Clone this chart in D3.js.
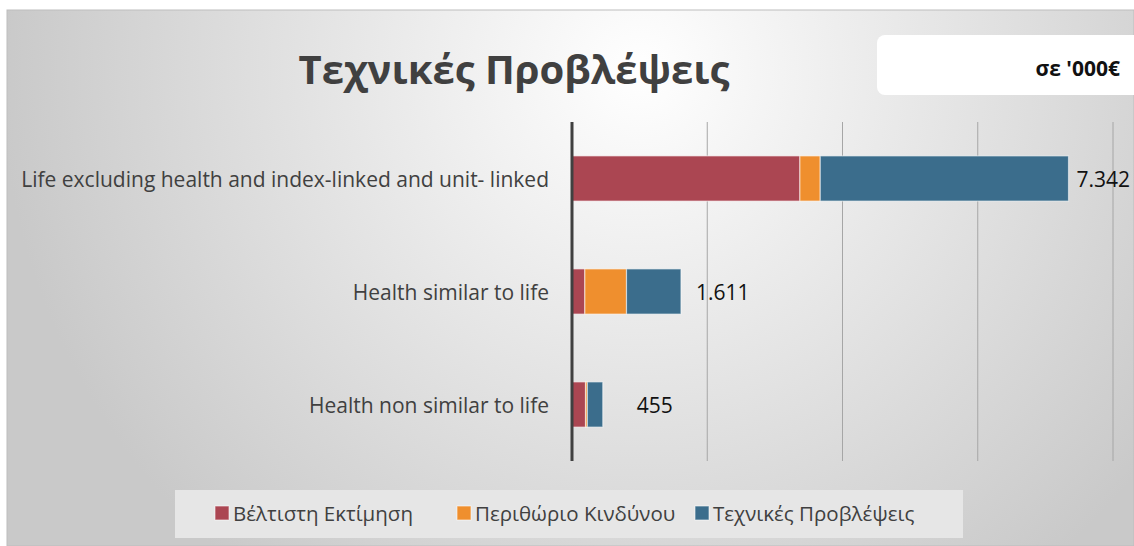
<!DOCTYPE html>
<html>
<head>
<meta charset="utf-8">
<script src="https://cdn.jsdelivr.net/npm/d3@7"></script>
<style>
  html, body { margin: 0; padding: 0; background: #fff; }
  svg { display: block; }
</style>
</head>
<body>
<svg id="chart" width="1134" height="546"></svg>
<script>
// Data (values in '000€)
const categories = [
    'Life excluding health and index-linked and unit- linked',
    'Health similar to life',
    'Health non similar to life'
];
const seriesNames = ['Βέλτιστη Εκτίμηση', 'Περιθώριο Κινδύνου', 'Τεχνικές Προβλέψεις'];
const bestEstimate = [3370, 190, 200];
const riskMargin = [301, 616, 27];
const technicalProvisions = [3671, 805, 228];
const xTicks = [0, 2000, 4000, 6000, 8000];

const colors = ['#ab4652', '#ef8f2e', '#3b6d8c'];
const labelNudge = [8, 15, 34];

const svg = d3.select('#chart');
const W = 1134, H = 546;

// background
const defs = svg.append('defs');
const grad = defs.append('radialGradient')
    .attr('id', 'bg')
    .attr('gradientUnits', 'userSpaceOnUse')
    .attr('cx', 640).attr('cy', 70).attr('r', 640);
grad.append('stop').attr('offset', '0%').attr('stop-color', '#ffffff');
grad.append('stop').attr('offset', '100%').attr('stop-color', '#c9c9c9');

svg.append('rect')
    .attr('x', 7).attr('y', 10)
    .attr('width', W - 7).attr('height', H - 10)
    .attr('fill', 'url(#bg)')
    .attr('stroke', '#bdbdbd').attr('stroke-width', 1);

// title
svg.append('text')
    .attr('x', 514).attr('y', 84)
    .attr('text-anchor', 'middle')
    .style('font-family', '"Open Sans", sans-serif')
    .style('font-weight', 'bold')
    .style('font-size', '40px')
    .attr('fill', '#404040')
    .text('Τεχνικές Προβλέψεις');

// units box
svg.append('rect')
    .attr('x', 877).attr('y', 35)
    .attr('width', 280).attr('height', 60)
    .attr('rx', 8)
    .attr('fill', '#ffffff');
svg.append('text')
    .attr('x', 1120).attr('y', 76)
    .attr('text-anchor', 'end')
    .style('font-family', '"Open Sans", sans-serif')
    .style('font-weight', 'bold')
    .style('font-size', '21px')
    .attr('fill', '#111')
    .text("σε '000€");

// scales
const margin = {left: 572, right: 21, top: 122, bottom: 85};
const x = d3.scaleLinear()
    .domain([0, 8000])
    .range([margin.left, W - margin.right]);
const y = d3.scaleBand()
    .domain(categories)
    .range([margin.top, H - margin.bottom])
    .paddingInner(0.6)
    .paddingOuter(0.3);

// gridlines
svg.append('g')
    .selectAll('line')
    .data(xTicks.slice(1))
    .enter().append('line')
    .attr('x1', d => x(d)).attr('x2', d => x(d))
    .attr('y1', margin.top).attr('y2', H - margin.bottom)
    .attr('stroke', '#a6a6a6')
    .attr('stroke-width', 1);

// stacked bars
const rows = categories.map((c, i) => ({
    category: c,
    be: bestEstimate[i],
    rm: riskMargin[i],
    tp: technicalProvisions[i]
}));
const stack = d3.stack().keys(['be', 'rm', 'tp']);
const layers = stack(rows);

svg.append('g')
    .selectAll('g')
    .data(layers)
    .enter().append('g')
    .attr('fill', (d, i) => colors[i])
    .selectAll('rect')
    .data(d => d)
    .enter().append('rect')
    .attr('x', d => x(d[0]))
    .attr('y', d => y(d.data.category))
    .attr('width', d => x(d[1]) - x(d[0]))
    .attr('height', y.bandwidth())
    .attr('stroke', 'rgba(255,255,255,0.55)')
    .attr('stroke-width', 1.2);

// total labels
svg.append('g')
    .selectAll('text')
    .data(rows)
    .enter().append('text')
    .attr('x', (d, i) => x(d.be + d.rm + d.tp) + labelNudge[i])
    .attr('y', d => y(d.category) + y.bandwidth() / 2 + 8)
    .style('font-family', '"Open Sans", sans-serif')
    .style('font-size', '21px')
    .attr('fill', '#111')
    .text(d => d3.format(',')(d.be + d.rm + d.tp).replace(/,/g, '.'));

// axis line (zero)
svg.append('line')
    .attr('x1', x(0)).attr('x2', x(0))
    .attr('y1', margin.top).attr('y2', H - margin.bottom)
    .attr('stroke', '#404040')
    .attr('stroke-width', 3);

// category labels
svg.append('g')
    .selectAll('text')
    .data(categories)
    .enter().append('text')
    .attr('x', 549)
    .attr('y', d => y(d) + y.bandwidth() / 2 + 8)
    .attr('text-anchor', 'end')
    .style('font-family', '"Open Sans", sans-serif')
    .style('font-size', '21px')
    .attr('fill', '#404040')
    .text(d => d);

// legend
const legend = svg.append('g');
legend.append('rect')
    .attr('x', 175).attr('y', 490)
    .attr('width', 788).attr('height', 48)
    .attr('fill', '#e6e6e6');
const legendX = [215, 457, 695];
seriesNames.forEach((name, i) => {
    legend.append('rect')
        .attr('x', legendX[i]).attr('y', 506)
        .attr('width', 14).attr('height', 14)
        .attr('fill', colors[i])
        .attr('stroke', 'rgba(255,255,255,0.6)');
    legend.append('text')
        .attr('x', legendX[i] + 18).attr('y', 521)
        .style('font-family', '"Open Sans", sans-serif')
        .style('font-size', '20.5px')
        .attr('fill', '#404040')
        .text(name);
});
</script>
</body>
</html>
